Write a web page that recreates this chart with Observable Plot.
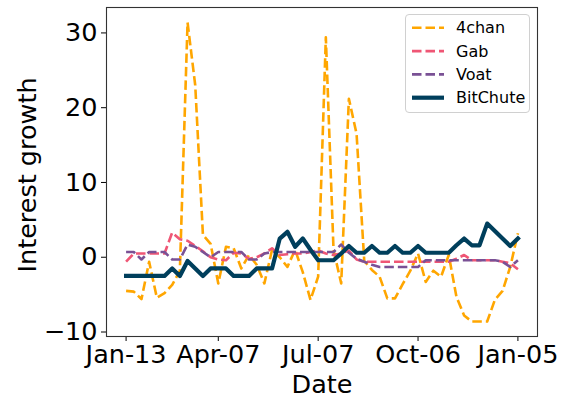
<!DOCTYPE html>
<html>
<head>
<meta charset="utf-8">
<script src="https://cdn.jsdelivr.net/npm/d3@7"></script>
<script src="https://cdn.jsdelivr.net/npm/@observablehq/plot@0.6"></script>
<style>
  html, body { margin: 0; padding: 0; background: white; }
  #wrap { position: relative; width: 561px; height: 400px; font-family: "DejaVu Sans", sans-serif; }
  #legend { position: absolute; left: 405px; top: 14px; width: 123px; height: 97px;
            border: 1px solid #d0d0d0; border-radius: 4px; background: rgba(255,255,255,0.85); }
</style>
</head>
<body>
<div id="wrap"></div>
<script>
// Weekly dates (Sundays) from 2019-01-13 to 2020-01-05
const startDate = new Date(Date.UTC(2019, 0, 13));
const nWeeks = 52;
const dates = d3.range(nWeeks).map(i => d3.utcDay.offset(startDate, 7 * i));

const seriesNames = ["4chan", "Gab", "Voat", "BitChute"];
const chan4 = [-4.5,-4.6,-5.6,-0.6,-5.4,-4.8,-3.7,-1.8,31.4,23.0,
               3.0,1.8,-3.5,1.4,1.2,-1.5,0.3,-1.0,-3.5,1.0,
               0.0,-1.3,1.0,-2.0,-5.7,-2.6,29.4,1.0,-3.5,21.2,
               16.5,-0.5,-1.7,-2.6,-5.5,-5.5,-3.6,-1.8,0.5,-3.3,
               -1.8,-2.6,0.3,-5.3,-7.8,-8.6,-8.6,-8.6,-5.7,-4.5,
               -1.3,3.2];
const gab = [-0.6,0.5,0.5,0.5,0.5,0.5,3.3,2.4,2.2,1.5,
             0.8,0.0,-0.3,-0.4,0.6,0.5,-0.2,0.0,0.5,1.2,
             0.3,0.4,0.5,0.5,0.7,0.9,0.5,0.3,0.5,0.9,
             -0.3,-0.6,-0.6,-0.6,-0.6,-0.6,-0.6,-0.6,-0.6,-0.6,
             -0.6,-0.6,-0.6,-0.2,0.3,-0.4,-0.4,-0.4,-0.4,-0.6,
             -0.8,-1.6];
const voat = [0.7,0.7,-0.3,0.7,0.7,0.7,-0.3,-0.3,1.7,1.4,
              0.7,0.0,0.7,0.7,0.7,0.7,-0.3,-0.3,0.5,0.7,
              0.7,0.7,0.7,0.7,0.7,0.7,0.7,0.7,1.7,0.6,
              -0.2,-0.6,-1.0,-1.3,-1.3,-1.3,-1.3,-1.3,-1.3,-0.4,
              -0.4,-0.4,-0.4,-0.4,-0.4,-0.4,-0.4,-0.4,-0.4,-0.6,
              -1.3,-0.4];
const bitchute = [-2.5,-2.5,-2.5,-2.5,-2.5,-2.5,-1.5,-2.5,-0.5,-1.5,
                  -2.5,-1.5,-1.5,-1.5,-2.5,-2.5,-2.5,-1.5,-1.5,-1.5,
                  2.5,3.4,1.4,2.5,1.0,-0.4,-0.4,-0.4,0.5,1.5,
                  0.6,0.6,1.5,0.6,0.6,1.5,0.6,0.6,1.5,0.6,
                  0.6,0.6,0.6,1.6,2.5,1.6,1.6,4.5,3.5,2.5,
                  1.5,2.5];
const seriesValues = [chan4, gab, voat, bitchute];
const seriesColors = ["#ffa600", "#ef5675", "#7a5195", "#003f5c"];
const seriesWidths = [2.6, 2.6, 2.6, 4.2];
const seriesDash = ["9.5,4", "9.5,4", "9.5,4", null];

const xTickDates = ["2019-01-13", "2019-04-07", "2019-07-07", "2019-10-06", "2020-01-05"].map(s => new Date(s + "T00:00:00Z"));
const yTicks = [-10, 0, 10, 20, 30];

// matplotlib-style 5% margins
const t0 = +dates[0], t1 = +dates[dates.length - 1];
const tp = (t1 - t0) * 0.05;
const allVals = seriesValues.flat();
const vmin = d3.min(allVals), vmax = d3.max(allVals);
const vp = (vmax - vmin) * 0.05;

const lineMarks = seriesNames.map((name, k) => {
  const rows = dates.map((d, i) => ({date: d, value: seriesValues[k][i]}));
  return Plot.line(rows, {
    x: "date", y: "value",
    stroke: seriesColors[k], strokeWidth: seriesWidths[k],
    strokeDasharray: seriesDash[k] || undefined,
    strokeLinejoin: "round", strokeLinecap: seriesDash[k] ? "butt" : "square"
  });
});

const chart = Plot.plot({
  width: 561, height: 400,
  marginLeft: 106, marginRight: 24, marginTop: 7, marginBottom: 64,
  style: {fontFamily: "DejaVu Sans, sans-serif", fontSize: "25.5px", color: "#000", background: "white", overflow: "visible"},
  x: {type: "utc", domain: [new Date(t0 - tp), new Date(t1 + tp)], ticks: xTickDates,
      tickFormat: d3.utcFormat("%b-%d"), label: null, tickSize: 5, tickPadding: 3},
  y: {domain: [vmin - vp, vmax + vp], ticks: yTicks,
      tickFormat: d => d < 0 ? "\u2212" + Math.abs(d) : String(d), label: null, tickSize: 5, tickPadding: 4},
  marks: [
    ...lineMarks,
    Plot.frame({stroke: "#333", strokeWidth: 1.1}),
    Plot.text(["Date"], {text: d => d, frameAnchor: "bottom", textAnchor: "middle", dy: 48, lineAnchor: "middle", fontSize: 25.5}),
    Plot.text(["Interest growth"], {text: d => d, frameAnchor: "left", textAnchor: "middle", dx: -79, dy: 3, rotate: -90, lineAnchor: "middle", fontSize: 25.5})
  ]
});

const wrap = document.getElementById("wrap");
wrap.appendChild(chart);

// Legend
const legend = document.createElement("div");
legend.id = "legend";
const ns = "http://www.w3.org/2000/svg";
const lsvg = document.createElementNS(ns, "svg");
lsvg.setAttribute("width", 123); lsvg.setAttribute("height", 97);
seriesNames.forEach((name, k) => {
  const cy = 12.8 + k * 23.3;
  const ln = document.createElementNS(ns, "line");
  ln.setAttribute("x1", 6); ln.setAttribute("x2", 38);
  ln.setAttribute("y1", cy); ln.setAttribute("y2", cy);
  ln.setAttribute("stroke", seriesColors[k]);
  ln.setAttribute("stroke-width", seriesWidths[k]);
  if (seriesDash[k]) ln.setAttribute("stroke-dasharray", seriesDash[k]);
  lsvg.appendChild(ln);
  const tx = document.createElementNS(ns, "text");
  tx.setAttribute("x", 50); tx.setAttribute("y", cy);
  tx.setAttribute("dy", "0.35em");
  tx.setAttribute("font-size", "16px");
  tx.setAttribute("font-family", "DejaVu Sans, sans-serif");
  tx.setAttribute("fill", "#000");
  tx.textContent = name;
  lsvg.appendChild(tx);
});
legend.appendChild(lsvg);
wrap.appendChild(legend);
</script>
</body>
</html>
